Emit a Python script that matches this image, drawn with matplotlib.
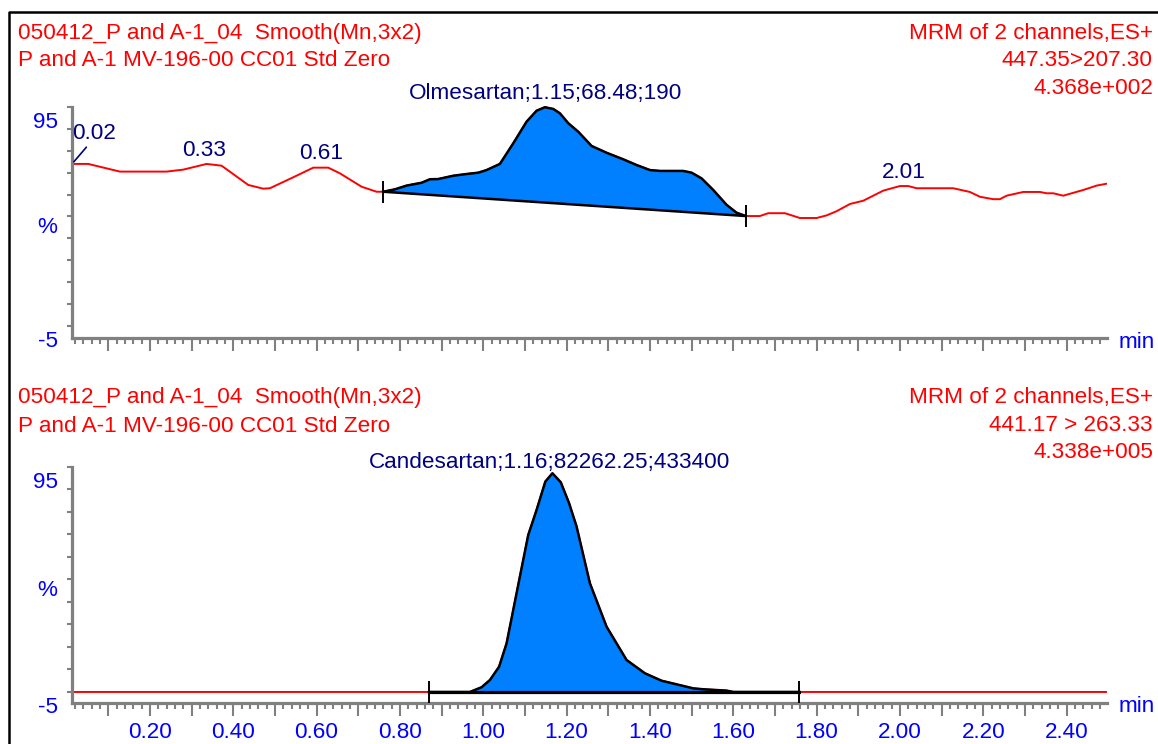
import matplotlib
matplotlib.use('Agg')
import matplotlib.pyplot as plt
import numpy as np
from matplotlib.ticker import MultipleLocator, FuncFormatter
from matplotlib.lines import Line2D

plt.rcParams['font.family'] = ['Liberation Sans', 'DejaVu Sans']

# --- data (time in min, intensity in %) ---
olm_t = [0.013, 0.052, 0.128, 0.240, 0.280, 0.336, 0.372, 0.436, 0.472, 0.488,
         0.544, 0.592, 0.628, 0.656, 0.708, 0.744, 0.760, 0.788, 0.816, 0.852,
         0.872, 0.892, 0.928, 0.960, 0.988, 1.008, 1.040, 1.072, 1.104, 1.128,
         1.148, 1.168, 1.184, 1.204, 1.228, 1.260, 1.296, 1.336, 1.368, 1.400,
         1.424, 1.480, 1.500, 1.524, 1.552, 1.584, 1.608, 1.630, 1.664, 1.684,
         1.724, 1.760, 1.800, 1.824, 1.848, 1.880, 1.912, 1.960, 2.000, 2.020,
         2.040, 2.128, 2.168, 2.192, 2.224, 2.240, 2.256, 2.296, 2.336, 2.352,
         2.368, 2.392, 2.440, 2.472, 2.497]
olm_y = [69.0, 69.0, 65.5, 65.5, 66.4, 69.0, 68.2, 59.4, 57.7, 57.9,
         62.9, 67.3, 67.3, 64.7, 58.6, 56.3, 56.3, 57.4, 59.1, 60.4,
         62.0, 62.1, 63.6, 64.4, 65.0, 66.2, 69.0, 78.4, 88.3, 93.3,
         94.9, 94.1, 92.1, 87.6, 83.7, 77.2, 74.1, 71.1, 68.5, 66.2,
         65.8, 65.8, 65.0, 62.4, 57.1, 50.3, 46.7, 45.2, 45.2, 46.5,
         46.5, 44.3, 44.3, 45.5, 47.4, 50.7, 52.2, 56.8, 58.9, 58.9,
         57.9, 57.9, 56.2, 54.0, 52.9, 52.9, 54.5, 56.2, 56.2, 55.6,
         55.6, 54.5, 57.1, 59.1, 60.0]
olm_peak = (0.760, 1.630)
olm_labels = [0.02, 0.33, 0.61, 2.01]
olm_name = "Olmesartan;1.15;68.48;190"
olm_rt = 1.15

can_t = [0.013, 0.870, 0.968, 0.996, 1.016, 1.038, 1.056, 1.080, 1.108, 1.128,
         1.149, 1.166, 1.186, 1.206, 1.224, 1.256, 1.296, 1.344, 1.388, 1.428,
         1.504, 1.528, 1.584, 1.600, 1.758, 2.497]
can_y = [-5.0, -5.0, -5.0, -2.9, 0.3, 6.2, 16.6, 38.9, 64.8, 75.9,
         88.5, 92.2, 88.2, 78.9, 68.5, 43.3, 24.0, 9.2, 3.3, 0.0,
         -3.4, -3.8, -4.4, -5.0, -5.0, -5.0]
can_peak = (0.870, 1.758)
can_name = "Candesartan;1.16;82262.25;433400"
can_rt = 1.16

head_left = ["050412_P and A-1_04  Smooth(Mn,3x2)", "P and A-1 MV-196-00 CC01 Std Zero"]
olm_right = ["MRM of 2 channels,ES+", "447.35>207.30", "4.368e+002"]
can_right = ["MRM of 2 channels,ES+", "441.17 > 263.33", "4.338e+005"]

W, H = 1158, 744
RED = '#FF0000'
NAVY = '#000080'
BLUE = '#0000FF'
GREY = '#808080'
FILL = '#0080FF'
FS = 16.2

fig = plt.figure(figsize=(W / 100, H / 100), dpi=100)


def px_axes(left, top, right, bottom):
    return fig.add_axes([left / W, 1 - bottom / H, (right - left) / W, (bottom - top) / H])


def px_text(x, y, s, ha):
    fig.text(x / W, 1 - y / H, s, ha=ha, va='center', color=RED, fontsize=FS)


def draw_panel(ax, t, y, peak, ylim, base_lw):
    t = np.array(t)
    y = np.array(y)
    ax.set_xlim(0.013, 2.497)
    ax.set_ylim(*ylim)
    for s in ['top', 'right']:
        ax.spines[s].set_visible(False)
    for s in ['left', 'bottom']:
        ax.spines[s].set_color(GREY)
        ax.spines[s].set_linewidth(2.3)
    ax.spines['left'].set_bounds(ylim[0], 95)

    ax.plot(t, y, color=RED, lw=1.4, zorder=2)

    m = (t >= peak[0] - 1e-9) & (t <= peak[1] + 1e-9)
    pt, py = t[m], y[m]
    base = np.interp(pt, [pt[0], pt[-1]], [py[0], py[-1]])
    ax.fill_between(pt, base, py, color=FILL, lw=0, zorder=3)
    ax.plot(pt, py, color='black', lw=1.8, zorder=4)
    ax.plot([pt[0], pt[-1]], [py[0], py[-1]], color='black', lw=base_lw, zorder=4)
    ax.plot([pt[0], pt[-1]], [py[0], py[-1]], ls='none', marker='|', ms=16,
            mew=1.4, color='black', zorder=5)

    ax.xaxis.set_major_locator(MultipleLocator(0.1))
    ax.xaxis.set_minor_locator(MultipleLocator(0.02))
    ax.set_yticks(np.arange(-5, 96, 10))
    ax.set_yticklabels([])
    ax.tick_params(axis='x', which='major', length=9.5, width=1.5, color=GREY,
                   labelcolor=BLUE, labelsize=FS, pad=4)
    ax.tick_params(axis='x', which='minor', length=4, width=1.5, color=GREY)
    ax.tick_params(axis='y', length=3.5, width=1.5, color=GREY)
    ax.xaxis.set_major_formatter(FuncFormatter(
        lambda v, p: f"{v:.2f}" if round(v * 10) % 2 == 0 else ""))

    for val in [95, -5]:
        ax.annotate(str(val), xy=(0, val), xycoords=('axes fraction', 'data'),
                    xytext=(-14, -5), textcoords='offset pixels',
                    ha='right', va='top', color=BLUE, fontsize=FS)
    ax.annotate('%', xy=(0, 40), xycoords=('axes fraction', 'data'),
                xytext=(-25, 0), textcoords='offset pixels',
                ha='center', va='center', color=BLUE, fontsize=FS)
    ax.annotate('min', xy=(1, 0), xycoords='axes fraction',
                xytext=(12, -4), textcoords='offset pixels',
                ha='left', va='center', color=BLUE, fontsize=FS)
    return t, y


def peak_label(ax, t, y, rt, text):
    ax.annotate(text, xy=(rt, np.interp(rt, t, y)), xytext=(0, 14),
                textcoords='offset pixels', ha='center', va='center',
                color=NAVY, fontsize=FS, annotation_clip=False)


# top panel: Olmesartan
ax1 = px_axes(72, 100, 1107, 338)
t1, y1 = draw_panel(ax1, olm_t, olm_y, olm_peak, (-10.5, 98.2), 1.8)
ax1.tick_params(labelbottom=False)
for rt in olm_labels[1:]:
    peak_label(ax1, t1, y1, rt, f"{rt:.2f}")
peak_label(ax1, t1, y1, olm_rt, olm_name)
ax1.annotate(f"{olm_labels[0]:.2f}", xy=(t1[0], y1[0]), xytext=(22, 30),
             textcoords='offset pixels', ha='center', va='center',
             color=NAVY, fontsize=FS,
             arrowprops=dict(arrowstyle='-', color=NAVY, lw=1.2,
                             relpos=(0.38, 0.0), shrinkA=0, shrinkB=2))

# bottom panel: Candesartan
ax2 = px_axes(72, 460, 1107, 703)
t2, y2 = draw_panel(ax2, can_t, can_y, can_peak, (-9.9, 98.1), 2.3)
peak_label(ax2, t2, y2, can_rt, can_name)

# header texts
for i, s in enumerate(head_left):
    px_text(18, 33 + 27 * i, s, 'left')
    px_text(18, 398 + 28 * i, s, 'left')
for i, s in enumerate(olm_right):
    px_text(1153, 33 + 27.5 * i, s, 'right')
for i, s in enumerate(can_right):
    px_text(1153, 398 + 27.5 * i, s, 'right')

# frame around the report
fig.add_artist(Line2D([9 / W, 9 / W, 1], [0, 1 - 12 / H, 1 - 12 / H],
                      transform=fig.transFigure, color='black', lw=1.8))

fig.savefig('out.png', dpi=100)
